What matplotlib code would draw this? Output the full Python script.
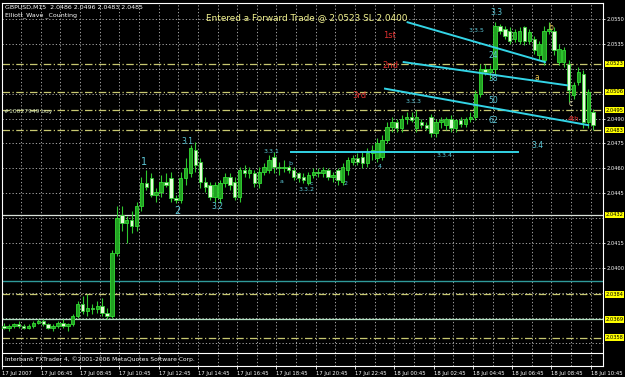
import matplotlib.pyplot as plt
import matplotlib.transforms as mtransforms
import numpy as np

# Datos de las velas (GBPUSD M15)
aperturas = [2.0365, 2.0364, 2.0365, 2.0366, 2.0365, 2.0364, 2.0365, 2.0367, 2.0368, 2.0366,
             2.0364, 2.0365, 2.0367, 2.0365, 2.0366, 2.0371, 2.0378, 2.0374, 2.0376, 2.0375,
             2.0377, 2.0373, 2.0371, 2.0409, 2.0432, 2.0427, 2.0429, 2.0425, 2.0437, 2.0451,
             2.0454, 2.0444, 2.0446, 2.0452, 2.0454, 2.0442, 2.0441, 2.0454, 2.0457, 2.0471,
             2.0464, 2.0452, 2.0450, 2.0443, 2.0442, 2.0451, 2.0455, 2.0452, 2.0443, 2.0459,
             2.0457, 2.0457, 2.0451, 2.0458, 2.0459, 2.0467, 2.0461, 2.0460, 2.0461, 2.0459,
             2.0457, 2.0455, 2.0451, 2.0456, 2.0458, 2.0457, 2.0459, 2.0455, 2.0459, 2.0452,
             2.0459, 2.0464, 2.0466, 2.0467, 2.0463, 2.0469, 2.0466, 2.0467, 2.0477, 2.0485,
             2.0488, 2.0484, 2.0490, 2.0491, 2.0484, 2.0488, 2.0486, 2.0491, 2.0481, 2.0488,
             2.0486, 2.0490, 2.0484, 2.0489, 2.0487, 2.0490, 2.0491, 2.0505, 2.0520, 2.0518,
             2.0520, 2.0546, 2.0544, 2.0543, 2.0538, 2.0537, 2.0545, 2.0537, 2.0538, 2.0528,
             2.0525, 2.0543, 2.0543, 2.0524, 2.0524, 2.0523, 2.0504, 2.0512, 2.0517, 2.0488,
             2.0494]
maximos = [2.0367, 2.0366, 2.0367, 2.0368, 2.0366, 2.0366, 2.0368, 2.0369, 2.0369, 2.0367,
           2.0366, 2.0368, 2.0369, 2.0367, 2.0372, 2.0380, 2.0383, 2.0384, 2.0378, 2.0380,
           2.0382, 2.0376, 2.0411, 2.0437, 2.0437, 2.0431, 2.0434, 2.0440, 2.0455, 2.0459,
           2.0457, 2.0448, 2.0456, 2.0457, 2.0458, 2.0444, 2.0458, 2.0466, 2.0474, 2.0476,
           2.0466, 2.0455, 2.0452, 2.0452, 2.0453, 2.0457, 2.0457, 2.0455, 2.0461, 2.0462,
           2.0461, 2.0459, 2.0461, 2.0463, 2.0468, 2.0470, 2.0464, 2.0465, 2.0462, 2.0461,
           2.0458, 2.0457, 2.0458, 2.0460, 2.0460, 2.0461, 2.0460, 2.0458, 2.0460, 2.0463,
           2.0467, 2.0468, 2.0469, 2.0470, 2.0472, 2.0474, 2.0478, 2.0480, 2.0488, 2.0491,
           2.0490, 2.0492, 2.0494, 2.0494, 2.0495, 2.0490, 2.0488, 2.0493, 2.0490, 2.0491,
           2.0491, 2.0492, 2.0490, 2.0491, 2.0491, 2.0494, 2.0507, 2.0523, 2.0523, 2.0522,
           2.0548, 2.0547, 2.0546, 2.0545, 2.0544, 2.0545, 2.0546, 2.0544, 2.0540, 2.0537,
           2.0546, 2.0548, 2.0545, 2.0535, 2.0533, 2.0525, 2.0512, 2.0521, 2.0519, 2.0508,
           2.0496]
minimos = [2.0363, 2.0362, 2.0364, 2.0364, 2.0363, 2.0363, 2.0364, 2.0366, 2.0365, 2.0363,
           2.0362, 2.0364, 2.0364, 2.0362, 2.0365, 2.0370, 2.0372, 2.0371, 2.0372, 2.0373,
           2.0371, 2.0369, 2.0370, 2.0407, 2.0422, 2.0415, 2.0421, 2.0422, 2.0434, 2.0447,
           2.0443, 2.0440, 2.0443, 2.0449, 2.0440, 2.0439, 2.0439, 2.0450, 2.0455, 2.0458,
           2.0448, 2.0446, 2.0441, 2.0440, 2.0439, 2.0449, 2.0447, 2.0441, 2.0440, 2.0455,
           2.0454, 2.0449, 2.0448, 2.0456, 2.0457, 2.0457, 2.0456, 2.0458, 2.0457, 2.0453,
           2.0452, 2.0451, 2.0450, 2.0454, 2.0455, 2.0455, 2.0453, 2.0452, 2.0450, 2.0450,
           2.0456, 2.0462, 2.0462, 2.0460, 2.0461, 2.0465, 2.0464, 2.0465, 2.0475, 2.0482,
           2.0482, 2.0482, 2.0487, 2.0488, 2.0482, 2.0484, 2.0483, 2.0479, 2.0479, 2.0484,
           2.0483, 2.0482, 2.0482, 2.0485, 2.0485, 2.0488, 2.0489, 2.0503, 2.0516, 2.0514,
           2.0517, 2.0541, 2.0538, 2.0535, 2.0536, 2.0535, 2.0534, 2.0535, 2.0529, 2.0525,
           2.0522, 2.0541, 2.0528, 2.0522, 2.0521, 2.0500, 2.0502, 2.0510, 2.0484, 2.0484,
           2.0483]
cierres = [2.0364, 2.0365, 2.0366, 2.0365, 2.0364, 2.0365, 2.0367, 2.0368, 2.0366, 2.0364,
           2.0365, 2.0367, 2.0365, 2.0366, 2.0371, 2.0378, 2.0374, 2.0376, 2.0375, 2.0377,
           2.0373, 2.0371, 2.0409, 2.0430, 2.0427, 2.0429, 2.0425, 2.0437, 2.0451, 2.0449,
           2.0444, 2.0446, 2.0452, 2.0450, 2.0442, 2.0441, 2.0454, 2.0460, 2.0472, 2.0462,
           2.0452, 2.0449, 2.0443, 2.0450, 2.0451, 2.0455, 2.0450, 2.0443, 2.0459, 2.0457,
           2.0459, 2.0451, 2.0458, 2.0461, 2.0465, 2.0461, 2.0460, 2.0461, 2.0459, 2.0455,
           2.0454, 2.0453, 2.0456, 2.0458, 2.0457, 2.0459, 2.0455, 2.0456, 2.0453, 2.0461,
           2.0465, 2.0466, 2.0464, 2.0463, 2.0469, 2.0471, 2.0475, 2.0477, 2.0485, 2.0488,
           2.0484, 2.0490, 2.0491, 2.0489, 2.0491, 2.0486, 2.0484, 2.0481, 2.0488, 2.0489,
           2.0490, 2.0484, 2.0489, 2.0487, 2.0490, 2.0491, 2.0505, 2.0520, 2.0518, 2.0520,
           2.0546, 2.0543, 2.0540, 2.0537, 2.0542, 2.0543, 2.0537, 2.0542, 2.0531, 2.0535,
           2.0543, 2.0544, 2.0531, 2.0532, 2.0531, 2.0507, 2.0510, 2.0518, 2.0488, 2.0506,
           2.0486]

# Niveles horizontales (etiqueta amarilla a la derecha)
niveles_amarillos = [2.0523, 2.0506, 2.0495, 2.0483, 2.0384, 2.0358]
nivel_blanco = 2.0432
nivel_verde = 2.0369
nivel_teal = 2.0392
etiquetas_niveles = [2.0523, 2.0506, 2.0495, 2.0483, 2.0432, 2.0384, 2.0369, 2.0358]
precios_eje = [2.0550, 2.0535, 2.0520, 2.0505, 2.0490, 2.0475, 2.0460, 2.0445,
               2.0430, 2.0415, 2.0400, 2.0385, 2.0370, 2.0355]
# las que quedan tapadas por una etiqueta amarilla no se escriben
precios_visibles = [2.0550, 2.0535, 2.0490, 2.0475, 2.0460, 2.0445, 2.0415, 2.0400]

# Lineas de tendencia (barra, precio)
tendencias = [((82.2, 2.0548), (110.2, 2.0524)),
              ((81.4, 2.0524), (114.7, 2.0510)),
              ((77.6, 2.0508), (119.0, 2.0486)),
              ((58.4, 2.0470), (104.7, 2.0470))]

# Etiquetas de ondas (texto, barra, precio, color, tamano)
ondas = [("3.3", 100.4, 2.0554, "#5cc8d8", 5.5), ("3.3.5", 96.3, 2.0543, "#5cc8d8", 4.5),
         ("b", 111.4, 2.0545, "#e0c050", 5.5), ("24", 99.6, 2.0528, "#5cc8d8", 5.5),
         ("38", 99.6, 2.0514, "#5cc8d8", 5.5), ("50", 99.6, 2.0501, "#5cc8d8", 5.5),
         ("62", 99.6, 2.0489, "#5cc8d8", 5.5), ("a", 108.6, 2.0515, "#e0c050", 5.5),
         ("c", 115.5, 2.0499, "#e8e0b0", 5.5), ("3.3.3", 83.5, 2.0500, "#5cc8d8", 4.5),
         ("3.3.4", 89.8, 2.0468, "#5cc8d8", 4.5), ("3.4", 108.6, 2.0474, "#5cc8d8", 5.5),
         ("1", 28.6, 2.0464, "#5cc8d8", 7), ("2", 35.3, 2.0434, "#5cc8d8", 7),
         ("3.1", 37.3, 2.0476, "#5cc8d8", 5.5), ("3.2", 43.5, 2.0437, "#5cc8d8", 5.5),
         ("3.3.1", 54.5, 2.0470, "#5cc8d8", 4.5), ("a", 56.5, 2.0452, "#5cc8d8", 4.5),
         ("b", 58.4, 2.0463, "#5cc8d8", 4.5), ("c", 62.7, 2.0451, "#5cc8d8", 4.5),
         ("3.3.2", 61.6, 2.0447, "#5cc8d8", 4.5), ("2", 69.6, 2.0451, "#5cc8d8", 4.5),
         ("4", 76.5, 2.0461, "#5cc8d8", 4.5),
         ("1st", 78.6, 2.0540, "#e03030", 6), ("2nd", 78.6, 2.0522, "#e03030", 6),
         ("3rd", 72.4, 2.0504, "#e03030", 6), ("4th", 115.9, 2.0490, "#e03030", 5)]

etiquetas_x = ["17 Jul 06:45", "17 Jul 08:45", "17 Jul 10:45", "17 Jul 12:45", "17 Jul 14:45",
               "17 Jul 16:45", "17 Jul 18:45", "17 Jul 20:45", "17 Jul 22:45", "18 Jul 00:45",
               "18 Jul 02:45", "18 Jul 04:45", "18 Jul 06:45", "18 Jul 08:45", "18 Jul 10:45"]

ap = np.array(aperturas)
ma = np.array(maximos)
mi = np.array(minimos)
ci = np.array(cierres)
idx = np.arange(len(ap))

fig = plt.figure(figsize=(6.25, 3.77), dpi=100, facecolor="black")
ax = fig.add_axes([2 / 625, 1 - 366 / 377, 601 / 625, 363 / 377])
ax.set_facecolor("black")
x_min, x_max = -0.4, 122.0
y_min, y_max = 2.03409, 2.05596
ax.set_xlim(x_min, x_max)
ax.set_ylim(y_min, y_max)

# Rejilla punteada
for p in precios_eje:
    ax.axhline(p, color="#bbbbbb", lw=0.6, ls=(0, (1.5, 2.5)), zorder=1)
for k in range(30):
    xv = 3.5 + 4 * k
    if xv < x_max:
        ax.axvline(xv, color="#bbbbbb", lw=0.6, ls=(0, (1.5, 2.5)), zorder=1)

# Niveles
for p in niveles_amarillos:
    ax.axhline(p, color="#c8c870", lw=0.9, ls=(0, (6, 2, 1, 2)), zorder=2)
ax.axhline(nivel_blanco, color="#d8e0d8", lw=0.9, zorder=2)
ax.axhline(nivel_verde, color="#b0e0c0", lw=0.9, zorder=2)
ax.axhline(nivel_teal, color="#2f9a9a", lw=1.0, zorder=2)

# Velas
sube = ci >= ap
ax.vlines(idx, mi, ma, color="#2ec82e", lw=0.8, zorder=4)
cuerpo = np.maximum(np.abs(ci - ap), 0.00003)
ax.bar(idx[sube], cuerpo[sube], bottom=np.minimum(ap, ci)[sube], width=0.7,
       color="#22a022", edgecolor="#33dd33", lw=0.6, zorder=5)
ax.bar(idx[~sube], cuerpo[~sube], bottom=np.minimum(ap, ci)[~sube], width=0.7,
       color="#e4ffd8", edgecolor="#33cc33", lw=0.6, zorder=5)

# Lineas de tendencia
for (x1, y1), (x2, y2) in tendencias:
    ax.plot([x1, x2], [y1, y2], color="#33d4e6", lw=1.4, zorder=6)

for txt, bx, py, col, fs in ondas:
    ax.text(bx, py, txt, color=col, fontsize=fs, ha="center", va="center", zorder=7)

ax.text(41.2, 2.0551, "Entered a Forward Trade @ 2.0523 SL 2.0400", color="#f4f490",
        fontsize=6.4, ha="left", va="center", zorder=7)
ax.text(0.0, 2.0494, "#10027949 buy", color="#d8e8c0", fontsize=4.3, ha="left", va="center", zorder=7)
ax.text(0.2, 2.0557, "GBPUSD,M15  2.0486 2.0496 2.0483 2.0485", color="white",
        fontsize=4.5, ha="left", va="center", zorder=7)
ax.text(0.2, 2.0552, "Elliott_Wave _Counting", color="white", fontsize=4.5,
        ha="left", va="center", zorder=7)

# Pie con copyright
y_pie = 2.05614 - 353 * 0.00006024
ax.axhline(y_pie, color="white", lw=0.8, zorder=8)
ax.text(0.2, (y_pie + y_min) / 2, "Interbank FXTrader 4, \u00a92001-2006 MetaQuotes Software Corp.",
        color="white", fontsize=4.3, ha="left", va="center", zorder=8)

# Ejes
for s in ax.spines.values():
    s.set_color("white")
    s.set_linewidth(0.8)
ax.yaxis.tick_right()
ax.set_yticks(precios_visibles)
ax.set_yticklabels([f"{p:.4f}" for p in precios_visibles])
ax.tick_params(axis="y", colors="white", labelsize=3.7, length=1.5, pad=0.8, width=0.6)
ax.set_xticks([x_min] + [7.5 + 8 * k for k in range(len(etiquetas_x))])
ax.set_xticklabels(["17 Jul 2007"] + etiquetas_x, ha="left")
ax.tick_params(axis="x", colors="white", labelsize=3.8, length=2, pad=1.5, width=0.6)

mezcla = mtransforms.blended_transform_factory(ax.transAxes, ax.transData)
for p in etiquetas_niveles:
    ax.text(1.004, p, f"{p:.4f}", transform=mezcla, color="black", fontsize=3.7,
            ha="left", va="center", clip_on=False, zorder=10,
            bbox=dict(facecolor="#ffff00", edgecolor="none", pad=0.5))

fig.savefig("out.png", dpi=100, facecolor="black")
